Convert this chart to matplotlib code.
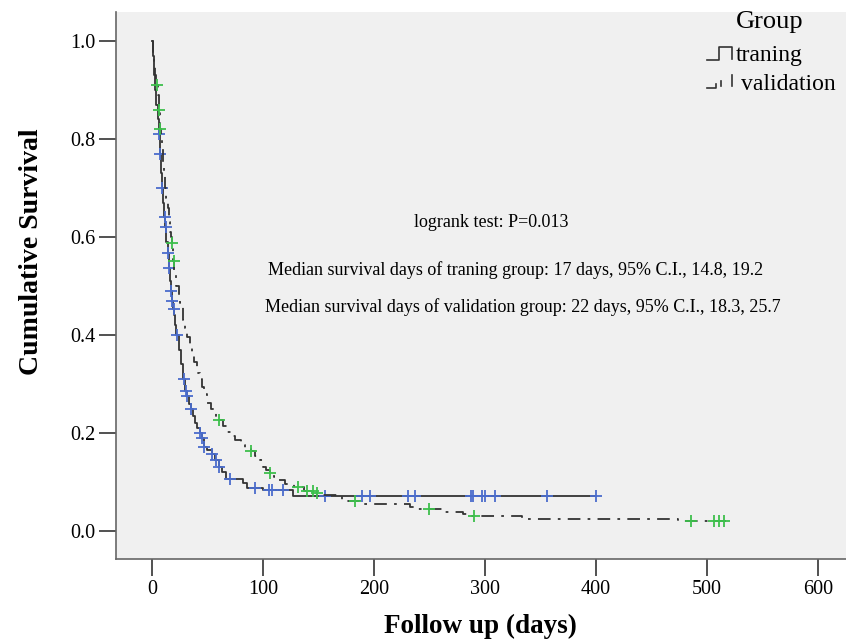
import numpy as np
import matplotlib
matplotlib.use("Agg")
import matplotlib.pyplot as plt
from matplotlib.lines import Line2D

# Kaplan-Meier step points (days, cumulative survival)
train_t = [0, 1, 2, 3, 4, 5, 6, 7, 8, 9, 10, 11, 12, 13, 14, 15, 16, 17, 18, 19,
           20, 21, 22, 24, 26, 28, 30, 31.5, 33, 35, 37, 39, 41, 43, 45, 47, 50, 54,
           57, 60, 63, 67, 82, 86, 100, 127]
train_s = [1.0, 0.97, 0.93, 0.90, 0.87, 0.84, 0.81, 0.77, 0.73, 0.70, 0.67, 0.64,
           0.62, 0.59, 0.567, 0.537, 0.51, 0.49, 0.47, 0.453, 0.44, 0.42, 0.40, 0.37,
           0.34, 0.31, 0.285, 0.275, 0.26, 0.25, 0.235, 0.22, 0.21, 0.20, 0.19, 0.172,
           0.165, 0.158, 0.145, 0.131, 0.12, 0.106, 0.098, 0.088, 0.084, 0.072]
train_end = 400
train_cens = [6.3, 7.2, 9, 11.5, 12.6, 14.4, 15.3, 17, 18, 19.5, 22.3, 28.8, 30.6,
              31.5, 35, 43, 45, 47, 54, 57.6, 60, 70, 93, 105, 108, 118, 156, 189,
              196, 231, 237, 287, 289, 297, 300, 309, 356, 400]

valid_t = [0, 1, 2, 3, 4, 5, 6, 7, 8, 9, 10, 11, 12, 13, 14, 15, 16, 17, 18, 19, 20,
           22, 24, 25, 28, 30, 32, 34, 36, 38, 40.5, 43, 45, 47, 49.5, 53, 58, 60, 64,
           67.5, 71, 75, 80, 84, 89, 93, 97, 100, 103, 106, 110, 114, 120, 128, 137,
           147, 149, 171, 187, 232, 240, 262, 280, 286, 333, 474]
valid_s = [1.0, 0.97, 0.95, 0.93, 0.91, 0.89, 0.86, 0.82, 0.80, 0.78, 0.75, 0.73,
           0.70, 0.68, 0.66, 0.63, 0.61, 0.60, 0.588, 0.55, 0.53, 0.50, 0.48, 0.465,
           0.43, 0.415, 0.396, 0.38, 0.363, 0.345, 0.322, 0.31, 0.294, 0.28, 0.262,
           0.25, 0.233, 0.227, 0.215, 0.202, 0.193, 0.185, 0.175, 0.168, 0.163, 0.153,
           0.145, 0.131, 0.125, 0.118, 0.11, 0.104, 0.096, 0.09, 0.082, 0.078, 0.073,
           0.062, 0.055, 0.049, 0.044, 0.039, 0.034, 0.030, 0.025, 0.020]
valid_end = 517
valid_cens = [4.5, 6.3, 7.2, 18, 19.8, 60.4, 89, 106, 131.5, 140, 145, 148.5, 183,
              250, 290, 486, 506, 511, 515]

x_ticks = [0, 100, 200, 300, 400, 500, 600]
y_ticks = [0.0, 0.2, 0.4, 0.6, 0.8, 1.0]

logrank_txt = "logrank test: P=0.013"
median_train_txt = "Median survival days of traning group: 17 days, 95% C.I., 14.8, 19.2"
median_valid_txt = "Median survival days of validation group: 22 days, 95% C.I., 18.3, 25.7"

W, H = 846, 641
serif = ["Liberation Serif", "DejaVu Serif"]
plt.rcParams["font.family"] = serif


def surv_at(times, steps, vals):
    # value of the step curve at each censor time
    idx = np.searchsorted(steps, times, side="right") - 1
    return np.asarray(vals)[idx]


fig = plt.figure(figsize=(W / 100, H / 100), dpi=100)
ax = fig.add_axes([116 / W, (H - 559) / H, (W - 116) / W, (559 - 12) / H])
ax.set_facecolor("#f0f0f0")

# training: solid
tt = train_t + [train_end]
ts = train_s + [train_s[-1]]
ax.plot(tt, ts, drawstyle="steps-post", color="#333333", lw=1.3)
ax.plot(train_cens, surv_at(train_cens, train_t, train_s), ls="none", marker="+",
        color="#4a6ccc", ms=8, mew=1.3)

# validation: dash-dot
vt = valid_t + [valid_end]
vs = valid_s + [valid_s[-1]]
ax.plot(vt, vs, drawstyle="steps-post", color="#333333", lw=1.3,
        ls=(0, (7, 4, 1.5, 4)))
ax.plot(valid_cens, surv_at(valid_cens, valid_t, valid_s), ls="none", marker="+",
        color="#3dbf4c", ms=8, mew=1.3)

ax.set_xlim(-32.4, 625.2)
ax.set_ylim(-0.057, 1.059)
ax.set_xticks(x_ticks)
ax.set_yticks(y_ticks)
ax.set_yticklabels([f"{v:.1f}" for v in y_ticks])
ax.tick_params(direction="out", length=12, width=1.2, color="#333333",
               labelsize=14.5, pad=3)
for side in ["top", "right"]:
    ax.spines[side].set_visible(False)
for side in ["left", "bottom"]:
    ax.spines[side].set_color("#666666")
    ax.spines[side].set_linewidth(1.2)

ax.set_xlabel("Follow up (days)", fontsize=19.5, fontweight="bold", va="center")
ax.xaxis.set_label_coords((480 - 116) / 730, (559 - 626) / 547)
ax.set_ylabel("Cumulative Survival", fontsize=20, fontweight="bold", va="center")
ax.yaxis.set_label_coords((32 - 116) / 730, (559 - 252) / 547)

# annotations
fig.text(491 / W, 1 - 222 / H, logrank_txt, fontsize=13, ha="center", va="center")
fig.text(268 / W, 1 - 270 / H, median_train_txt, fontsize=13, ha="left", va="center")
fig.text(265 / W, 1 - 307 / H, median_valid_txt, fontsize=13, ha="left", va="center")

# legend drawn by hand, like the SPSS output
fig.text(770 / W, 1 - 22 / H, "Group", fontsize=19, ha="center", va="center")
fig.text(736 / W, 1 - 56 / H, "traning", fontsize=17, ha="left", va="center")
fig.text(741 / W, 1 - 84 / H, "validation", fontsize=17, ha="left", va="center")


def px_line(xs, ys, **kw):
    fig.add_artist(Line2D(np.array(xs) / W, 1 - np.array(ys) / H,
                          transform=fig.transFigure, color="#333333", lw=1.2, **kw))


px_line([707, 719, 719, 732, 732], [60, 60, 47, 47, 59])
px_line([707, 716, 716], [88, 88, 84])
px_line([721, 721], [81, 86])
px_line([732, 732], [75, 86])

fig.savefig("out.png", dpi=100)
